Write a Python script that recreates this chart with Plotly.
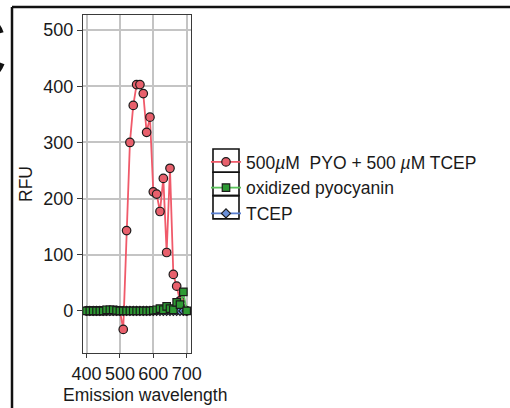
import plotly.graph_objects as go

# Emission scan, 400-700 nm in 10 nm steps
wavelength = list(range(400, 701, 10))

pyo_tcep = [0, 0, 0, 0, 0, 0, 0, 0, 0, 0, 0,
            -33, 143, 300, 366, 403, 403, 387, 318, 345, 212,
            208, 177, 236, 104, 254, 65, 44, 18, 3, 0]
oxidized_pyo = [0, 0, 0, 0, 0, 0, 2, 2, 2, 1, 0,
                0, 0, 0, 0, 0, 0, 0, 0, 0, 1,
                2, 4, 2, 8, 4, 2, 15, 11, 34, 0]
tcep = [0] * 31

series_names = ["500<i>µ</i>M  PYO + 500 <i>µ</i>M TCEP", "oxidized pyocyanin", "TCEP"]

FONT = "Liberation Sans, Arial, Helvetica, sans-serif"
W, H = 510, 408
ML, MR, MT, MB = 83, 319, 15, 55
PW, PH = W - ML - MR, H - MT - MB


def px_x(px):
    return (px - ML) / PW


def px_y(py):
    return (H - MB - py) / PH


fig = go.Figure()
# drawing order: red, blue, green (green squares sit on top along the baseline)
fig.add_trace(go.Scatter(
    x=wavelength, y=pyo_tcep, name=series_names[0], mode="lines+markers", legendrank=1,
    line=dict(color="#F05A6A", width=1.8),
    marker=dict(symbol="circle", size=8.5, color="#E8606C",
                line=dict(color="#1a1a1a", width=1.2)),
))
fig.add_trace(go.Scatter(
    x=wavelength, y=tcep, name=series_names[2], mode="lines+markers", legendrank=3,
    line=dict(color="#5A7FD0", width=1.8),
    marker=dict(symbol="diamond", size=7, color="#6A8FD8",
                line=dict(color="#1a1a1a", width=1.2)),
))
fig.add_trace(go.Scatter(
    x=wavelength, y=oxidized_pyo, name=series_names[1], mode="lines+markers", legendrank=2,
    line=dict(color="#5CC45C", width=1.8),
    marker=dict(symbol="square", size=7.5, color="#2E9A34",
                line=dict(color="#1a1a1a", width=1.2)),
))

axis_common = dict(
    showgrid=True, gridcolor="#C4C4C4", gridwidth=1.6,
    zeroline=False, showline=True, mirror=True, linecolor="#3a3a3a", linewidth=1.4,
    ticks="outside", tickcolor="#3a3a3a", tickwidth=1.2,
    automargin=False,
)

fig.update_layout(
    width=W, height=H,
    margin=dict(l=ML, r=MR, t=MT, b=MB),
    paper_bgcolor="white", plot_bgcolor="white",
    font=dict(family=FONT, size=17.5, color="#1a1a1a"),
    xaxis=dict(range=[389.5, 712.9], tickvals=[400, 500, 600, 700], tickangle=0,
               ticklen=4,
               tickfont=dict(family=FONT, size=18, color="#1a1a1a"), **axis_common),
    yaxis=dict(range=[-75, 527], tickvals=[0, 100, 200, 300, 400, 500], ticklen=5,
               tickfont=dict(family=FONT, size=18, color="#1a1a1a"),
               title=dict(text="RFU", standoff=6,
                          font=dict(family=FONT, size=17.5, color="#1a1a1a")),
               **axis_common),
    showlegend=True,
    legend=dict(x=px_x(206), y=px_y(144), xanchor="left", yanchor="top",
                bgcolor="rgba(0,0,0,0)", borderwidth=0, itemwidth=30,
                tracegroupgap=0,
                font=dict(family=FONT, size=17.5, color="#1a1a1a")),
)

# x-axis title, centred a little right of the panel as in the figure layout
fig.add_annotation(text="Emission wavelength", xref="paper", yref="paper",
                   x=px_x(145), y=px_y(395), xanchor="center", yanchor="middle",
                   showarrow=False, font=dict(family=FONT, size=17.5, color="#1a1a1a"))

shapes = []
# frame lines of the figure panel
shapes.append(dict(type="line", xref="paper", yref="paper",
                   x0=px_x(12), x1=px_x(515), y0=px_y(7), y1=px_y(7),
                   line=dict(color="#111111", width=2.5)))
shapes.append(dict(type="line", xref="paper", yref="paper",
                   x0=px_x(12), x1=px_x(12), y0=px_y(7), y1=px_y(412),
                   line=dict(color="#111111", width=2.5)))
# boxes around the legend keys
key_top, key_h = 149, 23.3
for i in range(3):
    shapes.append(dict(type="rect", xref="paper", yref="paper",
                       x0=px_x(213), x1=px_x(239),
                       y0=px_y(key_top + i * key_h), y1=px_y(key_top + (i + 1) * key_h),
                       line=dict(color="#111111", width=1.6)))
fig.update_layout(shapes=shapes)

# panel letter, mostly outside the page
fig.add_annotation(text="<b>C</b>", xref="paper", yref="paper",
                   x=px_x(9), y=px_y(48), xanchor="right", yanchor="middle",
                   showarrow=False, font=dict(family=FONT, size=100, color="#111111"))

fig.write_html("out.html")
